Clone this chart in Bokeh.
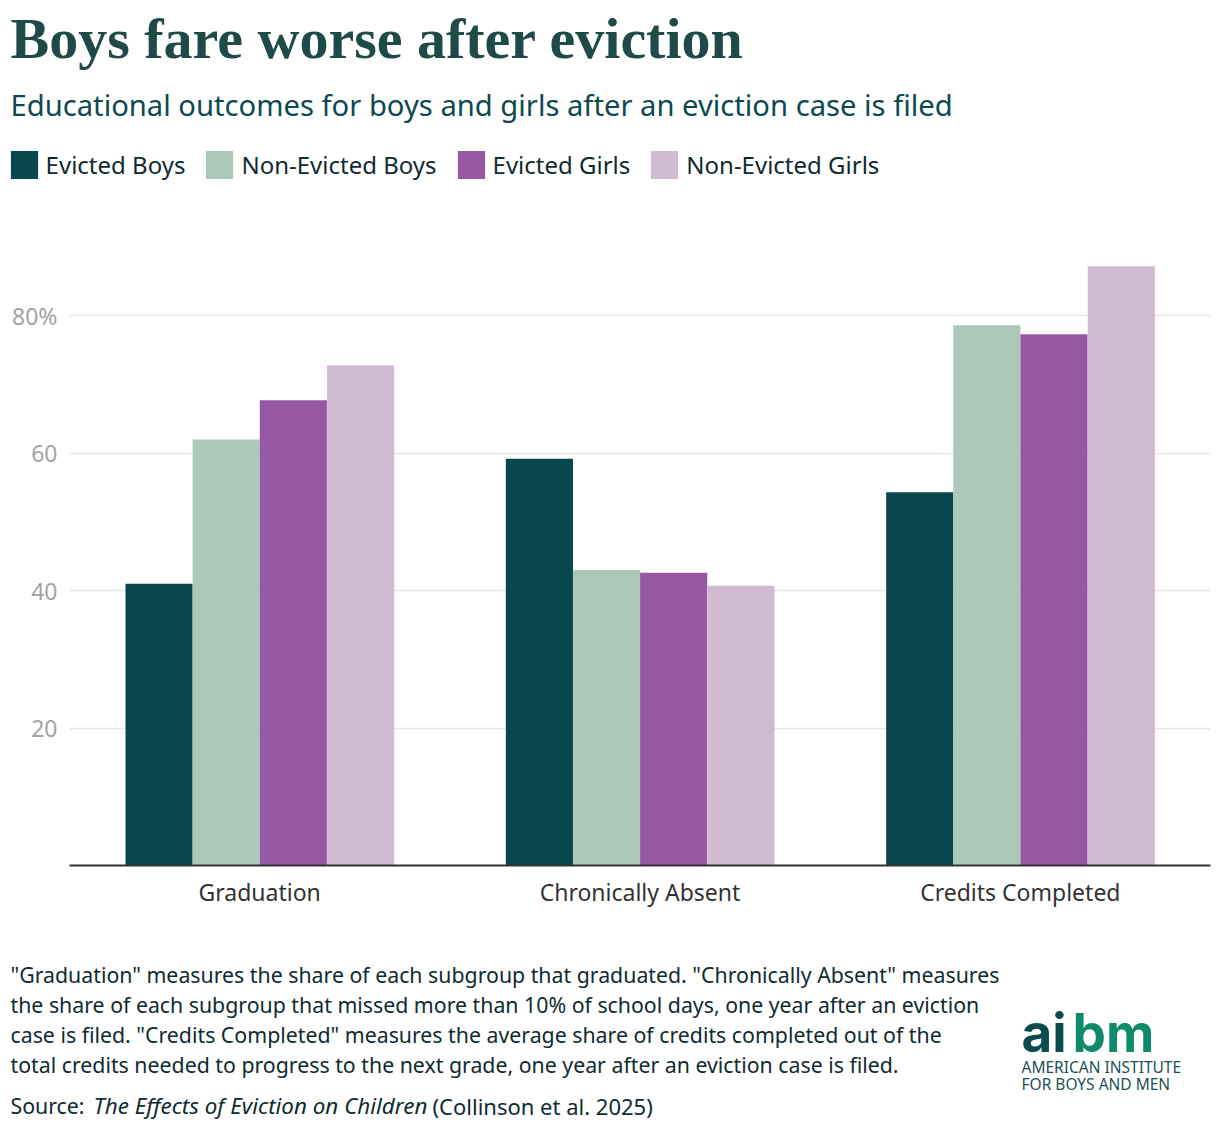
from bokeh.plotting import figure
from bokeh.layouts import column
from bokeh.models import (FactorRange, Range1d, FixedTicker, Label, Legend, Plot,
                          LegendItem, ColumnDataSource, VBar)
from bokeh.transform import dodge
from bokeh.embed import file_html
from bokeh.resources import INLINE

categories = ["Graduation", "Chronically Absent", "Credits Completed"]
series = ["Evicted Boys", "Non-Evicted Boys", "Evicted Girls", "Non-Evicted Girls"]
evicted_boys = [41.0, 59.2, 54.3]
non_evicted_boys = [62.0, 43.0, 78.6]
evicted_girls = [67.7, 42.6, 77.3]
non_evicted_girls = [72.8, 40.7, 87.2]
colors = ["#08474d", "#acc8b9", "#9758a3", "#d0bbd1"]
y_ticks = [20, 40, 60, 80]
y_tick_labels = ["20", "40", "60", "80%"]

title = "Boys fare worse after eviction"
subtitle = "Educational outcomes for boys and girls after an eviction case is filed"
notes = [
    '"Graduation" measures the share of each subgroup that graduated. "Chronically Absent" measures',
    'the share of each subgroup that missed more than 10% of school days, one year after an eviction',
    'case is filed. "Credits Completed" measures the average share of credits completed out of the',
    'total credits needed to progress to the next grade, one year after an eviction case is filed.',
]

SANS = "Noto Sans"
W = 1220
HEAD_H = 200
MAIN_TOP = HEAD_H
MAIN_BOTTOM = 930
FOOT_H = 1128 - MAIN_BOTTOM
TEXT = "#0f2b2f"

NOALIGN = {"frame_align": False} if "frame_align" in Plot.properties() else {}


def blank(h):
    f = Plot(width=W, height=h, x_range=Range1d(0, W), y_range=Range1d(0, h),
             output_backend="svg", toolbar_location=None, title=None,
             min_border_left=0, min_border_right=0, min_border_top=0, min_border_bottom=0,
             outline_line_color=None, **NOALIGN)
    return f


def lab(fig, h, y0, text, X, Y, size, color, font=SANS, style="normal", align="left"):
    fig.add_layout(Label(x=X, y=h - (Y - y0), text=text,
                         text_font=font, text_font_size=size, text_color=color,
                         text_font_style=style, text_baseline="middle", text_align=align))


# ---------------- header ----------------
head = blank(HEAD_H)
lab(head, HEAD_H, 0, title, 10, 38, "58px", "#1e4a47", font="Liberation Serif", style="bold")
lab(head, HEAD_H, 0, subtitle, 10, 104, "29.2px", "#0d4a4f")

# legend swatches: one hidden bar per series, placed far outside the visible range
swatch_src = ColumnDataSource(dict(x=[-1000], top=[0]))
swatches = []
for col in colors:
    swatches.append(head.add_glyph(swatch_src, VBar(x="x", top="top", width=1,
                                                    fill_color=col, line_color=None)))
legend = Legend(items=[LegendItem(label=s, renderers=[r]) for s, r in zip(series, swatches)],
                orientation="horizontal", location=(6.6, HEAD_H - 181.5), padding=0, margin=0,
                glyph_width=34, glyph_height=35, label_standoff=5, spacing=17,
                label_text_font=SANS, label_text_font_size="24px",
                label_text_color=TEXT, border_line_color=None,
                background_fill_alpha=0, label_height=35)
head.add_layout(legend, "center")

# ---------------- main chart ----------------
source = ColumnDataSource(dict(cat=categories, eb=evicted_boys, neb=non_evicted_boys,
                               eg=evicted_girls, neg=non_evicted_girls))
main_h = MAIN_BOTTOM - MAIN_TOP
p = figure(width=W, height=main_h, x_range=FactorRange(*categories, range_padding=0),
           y_range=Range1d(0, 92.4), output_backend="svg", toolbar_location=None,
           min_border_left=69, min_border_right=10, min_border_top=230 - MAIN_TOP,
           min_border_bottom=MAIN_BOTTOM - 865, **NOALIGN)
p.outline_line_color = None

cols = ["eb", "neb", "eg", "neg"]
offsets = [-0.2645, -0.088, 0.0885, 0.2655]
for c, off, col in zip(cols, offsets, colors):
    p.vbar(x=dodge("cat", off, range=p.x_range), top=c, width=0.1765, bottom=0,
           source=source, fill_color=col, line_color=None)

p.yaxis.ticker = FixedTicker(ticks=y_ticks)
p.yaxis.major_label_overrides = {t: l for t, l in zip(y_ticks, y_tick_labels)}
p.yaxis.axis_line_color = None
p.yaxis.major_tick_line_color = None
p.yaxis.minor_tick_line_color = None
p.yaxis.major_label_text_color = "#a3a3a3"
p.yaxis.major_label_text_font = SANS
p.yaxis.major_label_text_font_size = "23px"
p.yaxis.major_label_standoff = 6

p.xaxis.axis_line_color = "#333333"
p.xaxis.axis_line_width = 2
p.xaxis.major_tick_line_color = None
p.xaxis.minor_tick_line_color = None
p.xaxis.major_label_text_color = "#333333"
p.xaxis.major_label_text_font = SANS
p.xaxis.major_label_text_font_size = "23px"
p.xaxis.major_label_standoff = 4

p.xgrid.grid_line_color = None
p.ygrid.ticker = FixedTicker(ticks=y_ticks)
p.ygrid.grid_line_color = "#e6e6e6"
p.ygrid.grid_line_width = 1.5

# ---------------- footer ----------------
foot = blank(FOOT_H)
for i, line in enumerate(notes):
    lab(foot, FOOT_H, MAIN_BOTTOM, line, 10, 974 + 30 * i, "21.3px", TEXT)

lab(foot, FOOT_H, MAIN_BOTTOM, "Source:", 10, 1105, "21.3px", TEXT)
lab(foot, FOOT_H, MAIN_BOTTOM, "The Effects of Eviction on Children", 93, 1105, "22.4px",
    TEXT, style="italic")
lab(foot, FOOT_H, MAIN_BOTTOM, "(Collinson et al. 2025)", 432, 1105, "22px", TEXT)

lab(foot, FOOT_H, MAIN_BOTTOM, "ai", 1021, 1032, "53px", "#0b4a4f", font="Inter", style="bold")
lab(foot, FOOT_H, MAIN_BOTTOM, "bm", 1072, 1032, "53px", "#0f8a6b", font="Inter", style="bold")
lab(foot, FOOT_H, MAIN_BOTTOM, "AMERICAN INSTITUTE", 1021, 1066, "15.5px", "#1d5055")
lab(foot, FOOT_H, MAIN_BOTTOM, "FOR BOYS AND MEN", 1021, 1083, "15.5px", "#1d5055")

layout = column(head, p, foot, spacing=0)
open("out.html", "w").write(file_html(layout, INLINE))
